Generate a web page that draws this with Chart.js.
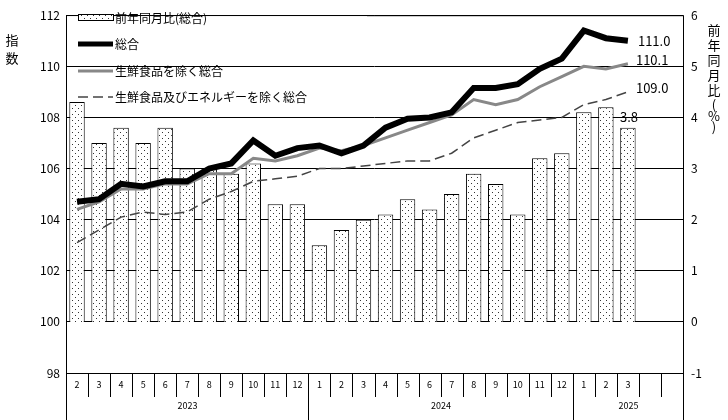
<!DOCTYPE html>
<html><head><meta charset="utf-8">
<script src="https://cdn.jsdelivr.net/npm/chart.js@4"></script>
<style>body{margin:0;background:#fff}#w{width:728px;height:420px}</style>
</head><body><div id="w"><canvas id="c"></canvas></div>
<script>
const months=['2','3','4','5','6','7','8','9','10','11','12','1','2','3','4','5','6','7','8','9','10','11','12','1','2','3','',''];
const years=[{label:'2023',from:0,to:11},{label:'2024',from:11,to:23},{label:'2025',from:23,to:28}];
const yoy=[4.3,3.5,3.8,3.5,3.8,3.0,3.0,2.9,3.1,2.3,2.3,1.5,1.8,2.0,2.1,2.4,2.2,2.5,2.9,2.7,2.1,3.2,3.3,4.1,4.2,3.8];
const total=[104.7,104.8,105.4,105.3,105.5,105.5,106.0,106.2,107.1,106.5,106.8,106.9,106.6,106.9,107.6,107.95,108.0,108.2,109.15,109.15,109.3,109.9,110.3,111.4,111.1,111.0];
const exFresh=[104.4,104.7,105.2,105.2,105.4,105.4,105.8,105.8,106.4,106.3,106.5,106.8,106.7,106.9,107.2,107.5,107.8,108.1,108.7,108.5,108.7,109.2,109.6,110.0,109.9,110.1];
const exFreshEnergy=[103.1,103.6,104.1,104.3,104.2,104.3,104.8,105.1,105.5,105.6,105.7,106.0,106.0,106.1,106.2,106.3,106.3,106.6,107.2,107.5,107.8,107.9,108.0,108.5,108.7,109.0];
const endLabels=['111.0','110.1','109.0','3.8'];

const pc=document.createElement('canvas');pc.width=6;pc.height=6;
const px=pc.getContext('2d');px.fillStyle='#fff';px.fillRect(0,0,6,6);px.fillStyle='#333';px.fillRect(0,0,1,1);px.fillRect(3,3,1,1);
const ctxc=document.getElementById('c').getContext('2d');
const dots=ctxc.createPattern(pc,'repeat');
const F='"MS Gothic","Noto Sans CJK JP",sans-serif';

const deco={id:'deco',afterDraw(ch){
 const c=ch.ctx,a=ch.chartArea,x=ch.scales.x,yl=ch.scales.yl,yr=ch.scales.yr;
 c.save();c.strokeStyle='#000';c.lineWidth=1;c.fillStyle='#000';
 c.strokeRect(a.left+.5,a.top+.5,a.right-a.left,a.bottom-a.top);
 const slot=(a.right-a.left)/months.length, yb=a.bottom, rowH=24;
 c.font='9px '+F;c.textAlign='center';c.textBaseline='middle';
 for(let i=0;i<=months.length;i++){const xx=Math.round(a.left+i*slot)+.5;c.beginPath();c.moveTo(xx,yb);c.lineTo(xx,yb+rowH);c.stroke();}
 months.forEach((m,i)=>c.fillText(m,x.getPixelForValue(i),yb+12));
 years.forEach(y=>{const x0=Math.round(a.left+y.from*slot)+.5,x1=Math.round(a.left+y.to*slot)+.5;
  c.beginPath();c.moveTo(x0,yb+rowH);c.lineTo(x0,420);c.moveTo(x1,yb+rowH);c.lineTo(x1,420);c.stroke();
  c.fillText(y.label,(x0+x1)/2,yb+33);});
 c.font='13px '+F;c.textAlign='center';
 c.fillText('指',12,40);c.fillText('数',12,58);
 ['前','年','同','月','比','(','%',')'].forEach((t,i)=>c.fillText(t,714,30+i*15+(i>4?-(i-5)*4:0)));
 c.fillStyle='#fff';c.fillRect(a.left+1,a.top+1,300,22);
 c.fillStyle=dots;c.fillRect(78,14,35,6);c.strokeRect(78.5,14.5,35,6);
 c.lineCap='butt';
 c.strokeStyle='#000';c.lineWidth=5;c.beginPath();c.moveTo(78,44);c.lineTo(113,44);c.stroke();
 c.strokeStyle='#888';c.lineWidth=3;c.beginPath();c.moveTo(78,71);c.lineTo(113,71);c.stroke();
 c.strokeStyle='#444';c.lineWidth=1.5;c.setLineDash([10,5]);c.beginPath();c.moveTo(78,97);c.lineTo(113,97);c.stroke();c.setLineDash([]);
 c.fillStyle='#000';c.font='12px '+F;c.textAlign='left';
 c.fillText('前年同月比(総合)',115,18);c.fillText('総合',115,44);c.fillText('生鮮食品を除く総合',115,71);c.fillText('生鮮食品及びエネルギーを除く総合',115,97);
 const n=total.length-1,xe=x.getPixelForValue(n);
 c.font='13px '+F;
 c.fillText(endLabels[0],xe+10,yl.getPixelForValue(total[n]));
 c.fillText(endLabels[1],xe+8,yl.getPixelForValue(exFresh[n])-4);
 c.fillText(endLabels[2],xe+8,yl.getPixelForValue(exFreshEnergy[n])-4);
 c.fillText(endLabels[3],xe-8,yr.getPixelForValue(yoy[n])-11);
 c.restore();}};

new Chart(ctxc,{data:{labels:months,datasets:[
 {type:'line',data:total,borderColor:'#000',borderWidth:6,pointRadius:0,tension:0,yAxisID:'yl',order:1},
 {type:'line',data:exFresh,borderColor:'#888',borderWidth:3,pointRadius:0,tension:0,yAxisID:'yl',order:2},
 {type:'line',data:exFreshEnergy,borderColor:'#444',borderWidth:1.5,borderDash:[10,5],pointRadius:0,tension:0,yAxisID:'yl',order:3},
 {type:'bar',data:yoy,backgroundColor:dots,borderColor:'#000',borderWidth:1,barPercentage:0.7,categoryPercentage:1,yAxisID:'yr',order:4}
]},options:{responsive:true,maintainAspectRatio:false,animation:false,
 layout:{padding:{top:8,bottom:47}},
 plugins:{legend:{display:false},tooltip:{enabled:false}},
 scales:{
  x:{display:false,offset:true},
  yl:{position:'left',min:98,max:112,ticks:{stepSize:2,color:'#000',font:{size:12,family:F},padding:6},grid:{color:'#000',drawTicks:false},border:{display:false},afterFit(s){s.width=66;}},
  yr:{position:'right',min:-1,max:6,ticks:{stepSize:1,color:'#000',font:{size:12,family:F},padding:8},grid:{display:false,drawTicks:false},border:{display:false},afterFit(s){s.width=45;}}
 }},plugins:[deco]});
</script></body></html>
